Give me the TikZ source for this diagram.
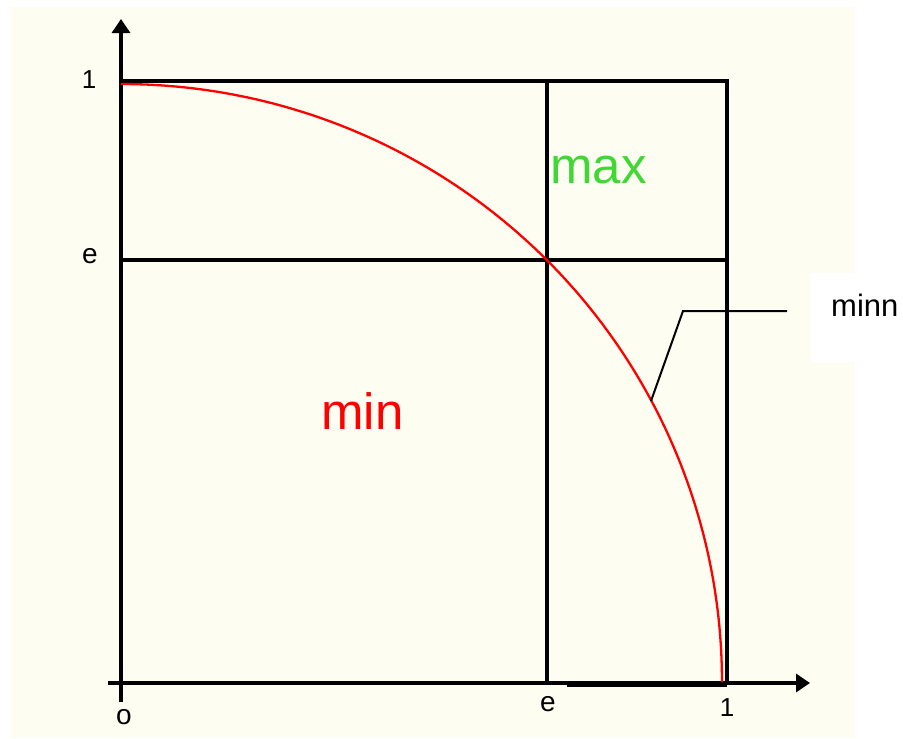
\documentclass[tikz,border=0pt]{standalone}
\usepackage{fontspec}
\setmainfont{Liberation Sans}
\usetikzlibrary{arrows.meta}
\definecolor{cream}{RGB}{253,253,241}
\definecolor{maxgreen}{RGB}{64,216,52}
\begin{document}
\begin{tikzpicture}[x=1pt,y=-1pt,
  blk/.style={line width=3.3pt, black},
  axisarrow/.style={blk, -{Triangle[length=14pt,width=18pt]}},
  curve/.style={line width=2.3pt, red},
  leader/.style={line width=2pt, black},
  ticklbl/.style={font=\fontsize{26}{28}\selectfont, inner sep=0pt},
  letterlbl/.style={font=\fontsize{28}{30}\selectfont, inner sep=0pt},
  biglbl/.style={font=\fontsize{51}{56}\selectfont, inner sep=0pt, anchor=base west}]
\useasboundingbox (0,0) rectangle (903,739);
\fill[white] (0,0) rectangle (903,739);
\fill[cream] (11,7) rectangle (855,738);
\fill[white] (811,273) rectangle (903,362);
% axes
\coordinate (o) at (121,683);
\coordinate (ytop) at (121,19);
\coordinate (ybot) at (121,702);
\coordinate (xleft) at (108,683);
\coordinate (xright) at (810,683);
\draw[axisarrow] (ybot) -- (ytop);
\draw[axisarrow] (xleft) -- (xright);
\draw[line width=5.5pt] (567,684) -- (727,684);
% box
\coordinate (tl) at (121,81);
\coordinate (tr) at (727,81);
\coordinate (br) at (727,683);
\coordinate (et) at (547,81);
\coordinate (eb) at (547,683);
\coordinate (el) at (121,260);
\coordinate (er) at (727,260);
\draw[blk] (tl) -- (tr) -- (br);
\draw[blk] (et) -- (eb);
\draw[blk] (el) -- (er);
% curve
\draw[curve] plot[domain=0:90, samples=120, smooth] ({121+601*sin(\x)}, {682-598*cos(\x)});
% labels
\node[ticklbl] (l1) at (89,80) {1};
\node[letterlbl] (le) at (90,256) {e};
\node[letterlbl] (lo) at (124,717) {o};
\node[letterlbl] (be) at (548,704) {e};
\node[ticklbl] (b1) at (727,708) {1};
\node[biglbl, text=maxgreen] (max) at (550,183) {max};
\node[biglbl, text=red] (min) at (321,429) {min};
\node[font=\fontsize{31}{34}\selectfont, inner sep=0pt, anchor=base west] (minn) at (831,316) {minn};
% leader
\coordinate (lp) at (651,401);
\coordinate (lk) at (683,311);
\coordinate (le2) at (787,311);
\draw[leader] (lp) -- (lk) -- (le2);
\end{tikzpicture}
\end{document}
